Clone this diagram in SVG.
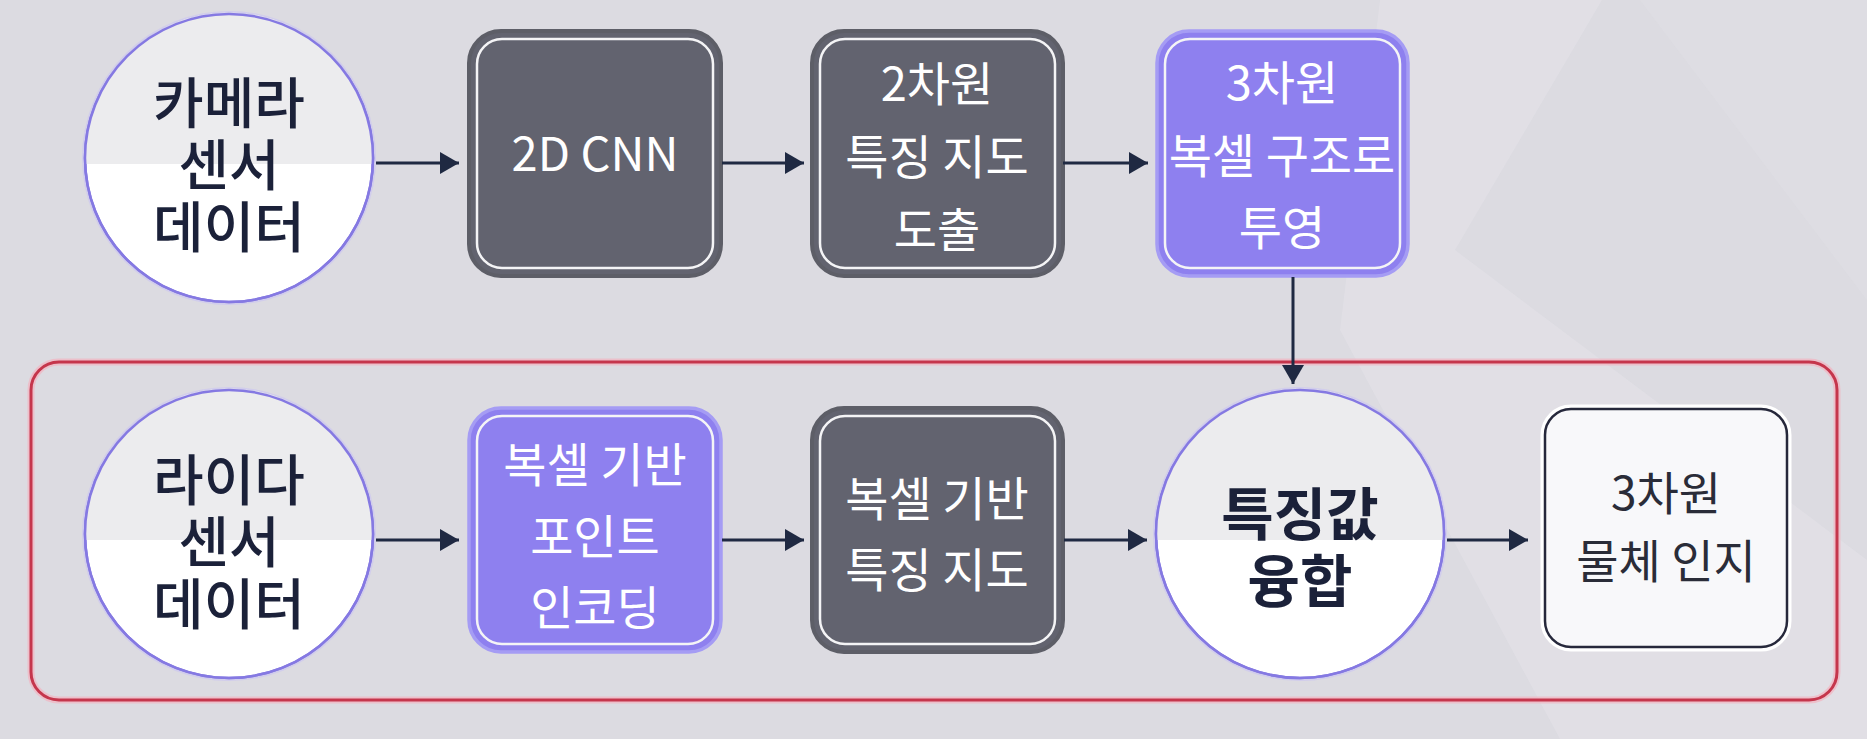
<svg xmlns="http://www.w3.org/2000/svg" width="1867" height="739" viewBox="0 0 1867 739">
<defs>
<style>
.bg{fill:#dcdbe1}
.cir{fill:#ffffff;stroke:#8579e2;stroke-width:2.5}
.cirtop{fill:#ececee}
.glow{fill:none;stroke:#c9c3f3;stroke-width:6;opacity:0.6}
.darkbox{fill:#62636f;stroke:#5d5e67;stroke-width:4}
.purbox{fill:#8e80ef;stroke:#a59cf4;stroke-width:3.5}
.inner{fill:none;stroke:#f4f4f6;stroke-width:2.5}
.whiteglow{fill:none;stroke:#ffffff;stroke-width:9}
.whitebox{fill:#f8f8fa;stroke:#26283b;stroke-width:2.5}
.t{font-family:"Noto Sans CJK KR","Noto Sans",sans-serif;text-anchor:middle;dominant-baseline:central}
.tw{fill:#ffffff;font-size:47px;font-weight:400}
.tc{fill:#1b2139;font-size:55px;font-weight:500}
.tb{fill:#1b2139;font-size:57px;font-weight:700}
.tdk{fill:#2a2c38;font-size:46px;font-weight:400}
.conn{stroke:#1f2942;stroke-width:3;fill:none;marker-end:url(#ah)}
</style>
<marker id="ah" markerUnits="userSpaceOnUse" markerWidth="20" markerHeight="22" refX="19" refY="11" orient="auto">
<path d="M0,0 L19,11 L0,22 Z" fill="#1f2942"/>
</marker>
</defs>
<rect class="bg" x="0" y="0" width="1867" height="739"/>
<polygon points="1380,0 1602,0 1455,250 1867,560 1867,739 1560,739 1340,330" fill="#e6e5ea" opacity="0.45"/>
<polygon points="1640,0 1867,0 1867,300" fill="#e3e2e7" opacity="0.35"/>

<g id="container">
<rect x="31" y="362" width="1806" height="338" rx="28" fill="none" stroke="#f2b3c0" stroke-width="7" opacity="0.7"/>
<rect x="31" y="362" width="1806" height="338" rx="28" fill="none" stroke="#c5364c" stroke-width="3"/>
</g>

<g id="node-camera">
<circle class="glow" cx="229" cy="158" r="144"/>
<circle class="cir" cx="229" cy="158" r="144"/>
<path class="cirtop" d="M85.2,164 A144,144 0 1 1 372.8,164 Z"/>
<circle cx="229" cy="158" r="144" fill="none" stroke="#8579e2" stroke-width="2.5"/>
<text class="t tc" x="229" y="99"><tspan x="229" y="99">카메라</tspan><tspan x="229" y="161">센서</tspan><tspan x="229" y="223">데이터</tspan></text>
</g>

<g id="node-2dcnn">
<rect class="darkbox" x="469" y="31" width="252" height="245" rx="32"/>
<rect class="inner" x="477" y="39" width="236" height="229" rx="25"/>
<text class="t tw" x="595" y="150" font-size="50">2D CNN</text>
</g>

<g id="node-2dfeat">
<rect class="darkbox" x="812" y="31" width="251" height="245" rx="32"/>
<rect class="inner" x="820" y="39" width="235" height="229" rx="25"/>
<text class="t tw" x="937" y="80"><tspan x="937" y="80">2차원</tspan><tspan x="937" y="153">특징 지도</tspan><tspan x="937" y="226">도출</tspan></text>
</g>

<g id="node-3dproj">
<rect class="purbox" x="1157" y="31" width="251" height="245" rx="32"/>
<rect class="inner" x="1165" y="39" width="235" height="229" rx="25"/>
<text class="t tw" x="1282" y="79"><tspan x="1282" y="79">3차원</tspan><tspan x="1282" y="152">복셀 구조로</tspan><tspan x="1282" y="224">투영</tspan></text>
</g>

<g id="node-lidar">
<circle class="glow" cx="229" cy="534" r="144"/>
<circle class="cir" cx="229" cy="534" r="144"/>
<path class="cirtop" d="M85.2,540 A144,144 0 1 1 372.8,540 Z"/>
<circle cx="229" cy="534" r="144" fill="none" stroke="#8579e2" stroke-width="2.5"/>
<text class="t tc" x="229" y="476"><tspan x="229" y="476">라이다</tspan><tspan x="229" y="538">센서</tspan><tspan x="229" y="600">데이터</tspan></text>
</g>

<g id="node-voxelenc">
<rect class="purbox" x="469" y="408" width="252" height="244" rx="32"/>
<rect class="inner" x="477" y="416" width="236" height="228" rx="25"/>
<text class="t tw" x="595" y="461"><tspan x="595" y="461">복셀 기반</tspan><tspan x="595" y="533">포인트</tspan><tspan x="595" y="604">인코딩</tspan></text>
</g>

<g id="node-voxelfeat">
<rect class="darkbox" x="812" y="408" width="251" height="244" rx="32"/>
<rect class="inner" x="820" y="416" width="235" height="228" rx="25"/>
<text class="t tw" x="937" y="495"><tspan x="937" y="495">복셀 기반</tspan><tspan x="937" y="566">특징 지도</tspan></text>
</g>

<g id="node-fusion">
<circle class="glow" cx="1300" cy="534" r="144"/>
<circle class="cir" cx="1300" cy="534" r="144"/>
<path class="cirtop" d="M1156.2,540 A144,144 0 1 1 1443.8,540 Z"/>
<circle cx="1300" cy="534" r="144" fill="none" stroke="#8579e2" stroke-width="2.5"/>
<text class="t tb" x="1300" y="510"><tspan x="1300" y="510">특징값</tspan><tspan x="1300" y="577">융합</tspan></text>
</g>

<g id="node-detect">
<rect class="whiteglow" x="1545" y="409" width="242" height="238" rx="26"/>
<rect class="whitebox" x="1545" y="409" width="242" height="238" rx="26"/>
<text class="t tdk" x="1666" y="490"><tspan x="1666" y="490">3차원</tspan><tspan x="1666" y="558">물체 인지</tspan></text>
</g>

<g id="connectors">
<line class="conn" x1="376" y1="163" x2="459" y2="163"/>
<line class="conn" x1="722" y1="163" x2="804" y2="163"/>
<line class="conn" x1="1063" y1="163" x2="1148" y2="163"/>
<line class="conn" x1="1293" y1="277" x2="1293" y2="384"/>
<line class="conn" x1="376" y1="540" x2="459" y2="540"/>
<line class="conn" x1="722" y1="540" x2="804" y2="540"/>
<line class="conn" x1="1064" y1="540" x2="1147" y2="540"/>
<line class="conn" x1="1447" y1="540" x2="1528" y2="540"/>
</g>
</svg>
